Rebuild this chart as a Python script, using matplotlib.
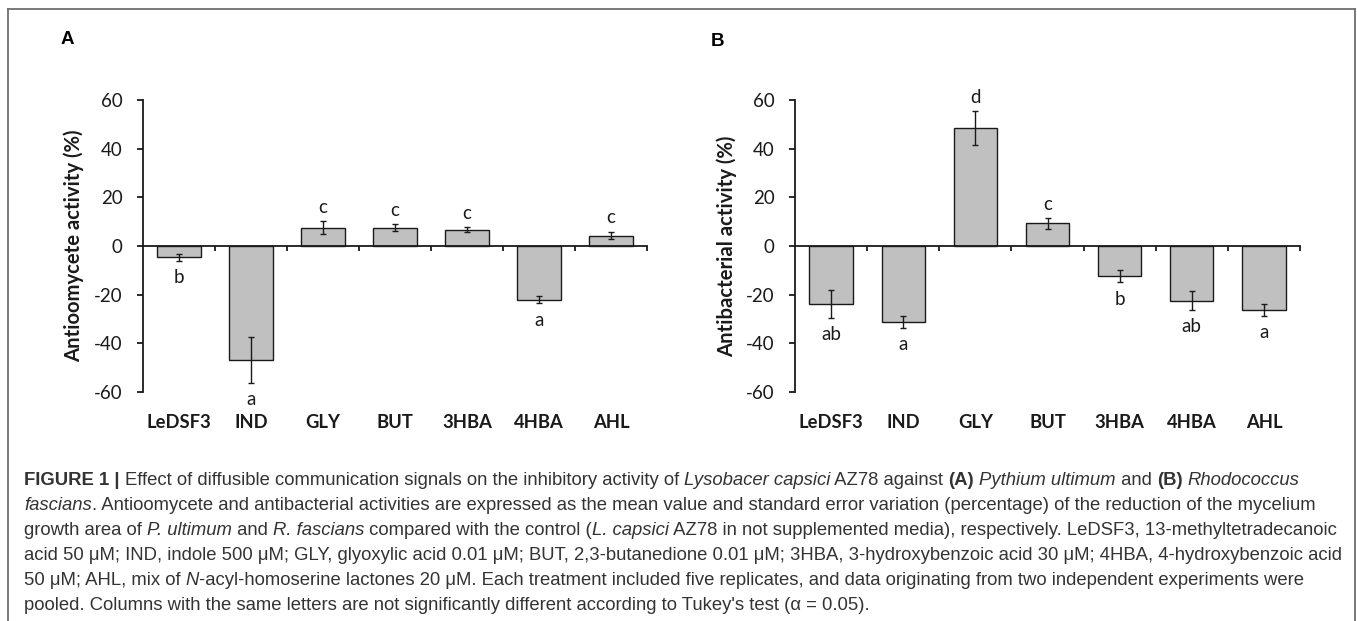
import matplotlib
matplotlib.use("Agg")
import matplotlib.pyplot as plt
from matplotlib.lines import Line2D
from matplotlib.font_manager import FontProperties
import numpy as np

# values (mean %, standard error, Tukey letters)
categories = ["LeDSF3", "IND", "GLY", "BUT", "3HBA", "4HBA", "AHL"]
antioomycete = [-4.7, -46.8, 7.6, 7.5, 6.7, -22.1, 4.3]
antioomycete_se = [1.5, 9.3, 2.5, 1.4, 1.0, 1.4, 1.6]
antioomycete_letters = ["b", "a", "c", "c", "c", "a", "c"]
antibacterial = [-23.8, -31.2, 48.5, 9.3, -12.4, -22.4, -26.2]
antibacterial_se = [5.8, 2.5, 6.8, 2.2, 2.5, 3.8, 2.4]
antibacterial_letters = ["ab", "a", "d", "c", "b", "ab", "a"]
yticks = [-60, -40, -20, 0, 20, 40, 60]

caption_lines = [
    [("FIGURE 1 | ", "b"), ("Effect of diffusible communication signals on the inhibitory activity of ", "r"),
     ("Lysobacer capsici", "i"), (" AZ78 against ", "r"), ("(A)", "b"), (" ", "r"),
     ("Pythium ultimum", "i"), (" and ", "r"), ("(B)", "b"), (" ", "r"), ("Rhodococcus", "i")],
    [("fascians", "i"), (". Antioomycete and antibacterial activities are expressed as the mean value and "
                         "standard error variation (percentage) of the reduction of the mycelium", "r")],
    [("growth area of ", "r"), ("P. ultimum", "i"), (" and ", "r"), ("R. fascians", "i"),
     (" compared with the control (", "r"), ("L. capsici", "i"),
     (" AZ78 in not supplemented media), respectively. LeDSF3, 13-methyltetradecanoic", "r")],
    [("acid 50 \u03bcM; IND, indole 500 \u03bcM; GLY, glyoxylic acid 0.01 \u03bcM; BUT, 2,3-butanedione 0.01 \u03bcM; "
      "3HBA, 3-hydroxybenzoic acid 30 \u03bcM; 4HBA, 4-hydroxybenzoic acid", "r")],
    [("50 \u03bcM; AHL, mix of ", "r"), ("N", "i"),
     ("-acyl-homoserine lactones 20 \u03bcM. Each treatment included five replicates, and data originating "
      "from two independent experiments were", "r")],
    [("pooled. Columns with the same letters are not significantly different according to Tukey's test "
      "(\u03b1 = 0.05).", "r")],
]

W, H = 1357, 621
INK = "#1a1a1a"
CHART_FONT = "Lato"
CAP_FONT = "Liberation Sans"

fig = plt.figure(figsize=(W / 100, H / 100), dpi=100)


def px_axes(left, top, right, bottom):
    return fig.add_axes([left / W, 1 - bottom / H, (right - left) / W, (bottom - top) / H])


def panel(ax, vals, errs, letters):
    x = np.arange(len(categories))
    ax.bar(x, vals, width=0.6, color="#c0c0c0", edgecolor=INK, linewidth=1.0, zorder=1.5)
    ax.errorbar(x, vals, yerr=errs, fmt="none", ecolor=INK, elinewidth=1.0,
                capsize=2.5, capthick=1.0, zorder=3)
    for xi, v, e, lab in zip(x, vals, errs, letters):
        if v >= 0:
            ax.annotate(lab, (xi, v + e), xytext=(0, 6), textcoords="offset points",
                        ha="center", va="baseline", fontsize=13.5, family=CHART_FONT, color=INK)
        else:
            ax.annotate(lab, (xi, v - e), xytext=(0, -6), textcoords="offset points",
                        ha="center", va="top", fontsize=13.5, family=CHART_FONT, color=INK)
    ax.set_xlim(-0.5, len(categories) - 0.5)
    ax.set_ylim(-60, 60)
    ax.set_yticks(yticks)
    ax.set_yticklabels([str(t) for t in yticks], family=CHART_FONT)
    ax.set_xticks(x + 0.5)
    ax.set_xticklabels([])
    ax.spines["bottom"].set_position(("data", 0))
    for s in ("top", "right"):
        ax.spines[s].set_visible(False)
    for s in ("left", "bottom"):
        ax.spines[s].set_linewidth(1.3)
        ax.spines[s].set_color(INK)
    ax.tick_params(axis="y", direction="out", length=4.5, width=1.3, pad=10,
                   labelsize=13.5, labelcolor=INK, color=INK)
    ax.tick_params(axis="x", direction="out", length=3.5, width=1.3, color=INK)
    for xi, c in zip(x, categories):
        ax.text(xi, -0.103, c, transform=ax.get_xaxis_transform(), ha="center", va="center",
                fontsize=13.2, fontweight="bold", family=CHART_FONT, color=INK)


axA = px_axes(143, 100, 647, 392)
panel(axA, antioomycete, antioomycete_se, antioomycete_letters)
axB = px_axes(795, 100, 1300, 392)
panel(axB, antibacterial, antibacterial_se, antibacterial_letters)

fig.text(74 / W, 1 - 246 / H, "Antioomycete activity (%)", rotation=90, ha="center", va="center",
         fontsize=14.6, fontweight="bold", family=CHART_FONT, color=INK)
fig.text(727 / W, 1 - 246 / H, "Antibacterial activity (%)", rotation=90, ha="center", va="center",
         fontsize=14.6, fontweight="bold", family=CHART_FONT, color=INK)
fig.text(67.5 / W, 1 - 40 / H, "A", ha="center", va="center", fontsize=13.5,
         fontweight="bold", family=CAP_FONT, color="black")
fig.text(717 / W, 1 - 41 / H, "B", ha="center", va="center", fontsize=13.5,
         fontweight="bold", family=CAP_FONT, color="black")

# frame round the figure (open at the bottom, cropped)
frame = dict(color="#6e6e6e", linewidth=1.3, transform=fig.transFigure)
fig.add_artist(Line2D([8 / W, 8 / W], [0, 1 - 9 / H], **frame))
fig.add_artist(Line2D([8 / W, 1355 / W], [1 - 9 / H, 1 - 9 / H], **frame))
fig.add_artist(Line2D([1355 / W, 1355 / W], [0, 1 - 9 / H], **frame))

# caption, drawn segment by segment so bold / italic runs sit inline
renderer = fig.canvas.get_renderer()
cap_size = 13.3
styles = {"r": dict(weight="normal", style="normal"),
          "b": dict(weight="bold", style="normal"),
          "i": dict(weight="normal", style="italic")}


def text_w(s, prop):
    w1, _, _ = renderer.get_text_width_height_descent("|" + s + "|", prop, ismath=False)
    w0, _, _ = renderer.get_text_width_height_descent("||", prop, ismath=False)
    return w1 - w0


for i, segs in enumerate(caption_lines):
    x = 24.0
    y = 485 + i * 25.0
    for txt, st in segs:
        prop = FontProperties(family=CAP_FONT, size=cap_size, **styles[st])
        fig.text(x / W, 1 - y / H, txt, fontproperties=prop, ha="left", va="baseline", color="#333333")
        x += text_w(txt, prop)

fig.savefig("out.png", dpi=100)
